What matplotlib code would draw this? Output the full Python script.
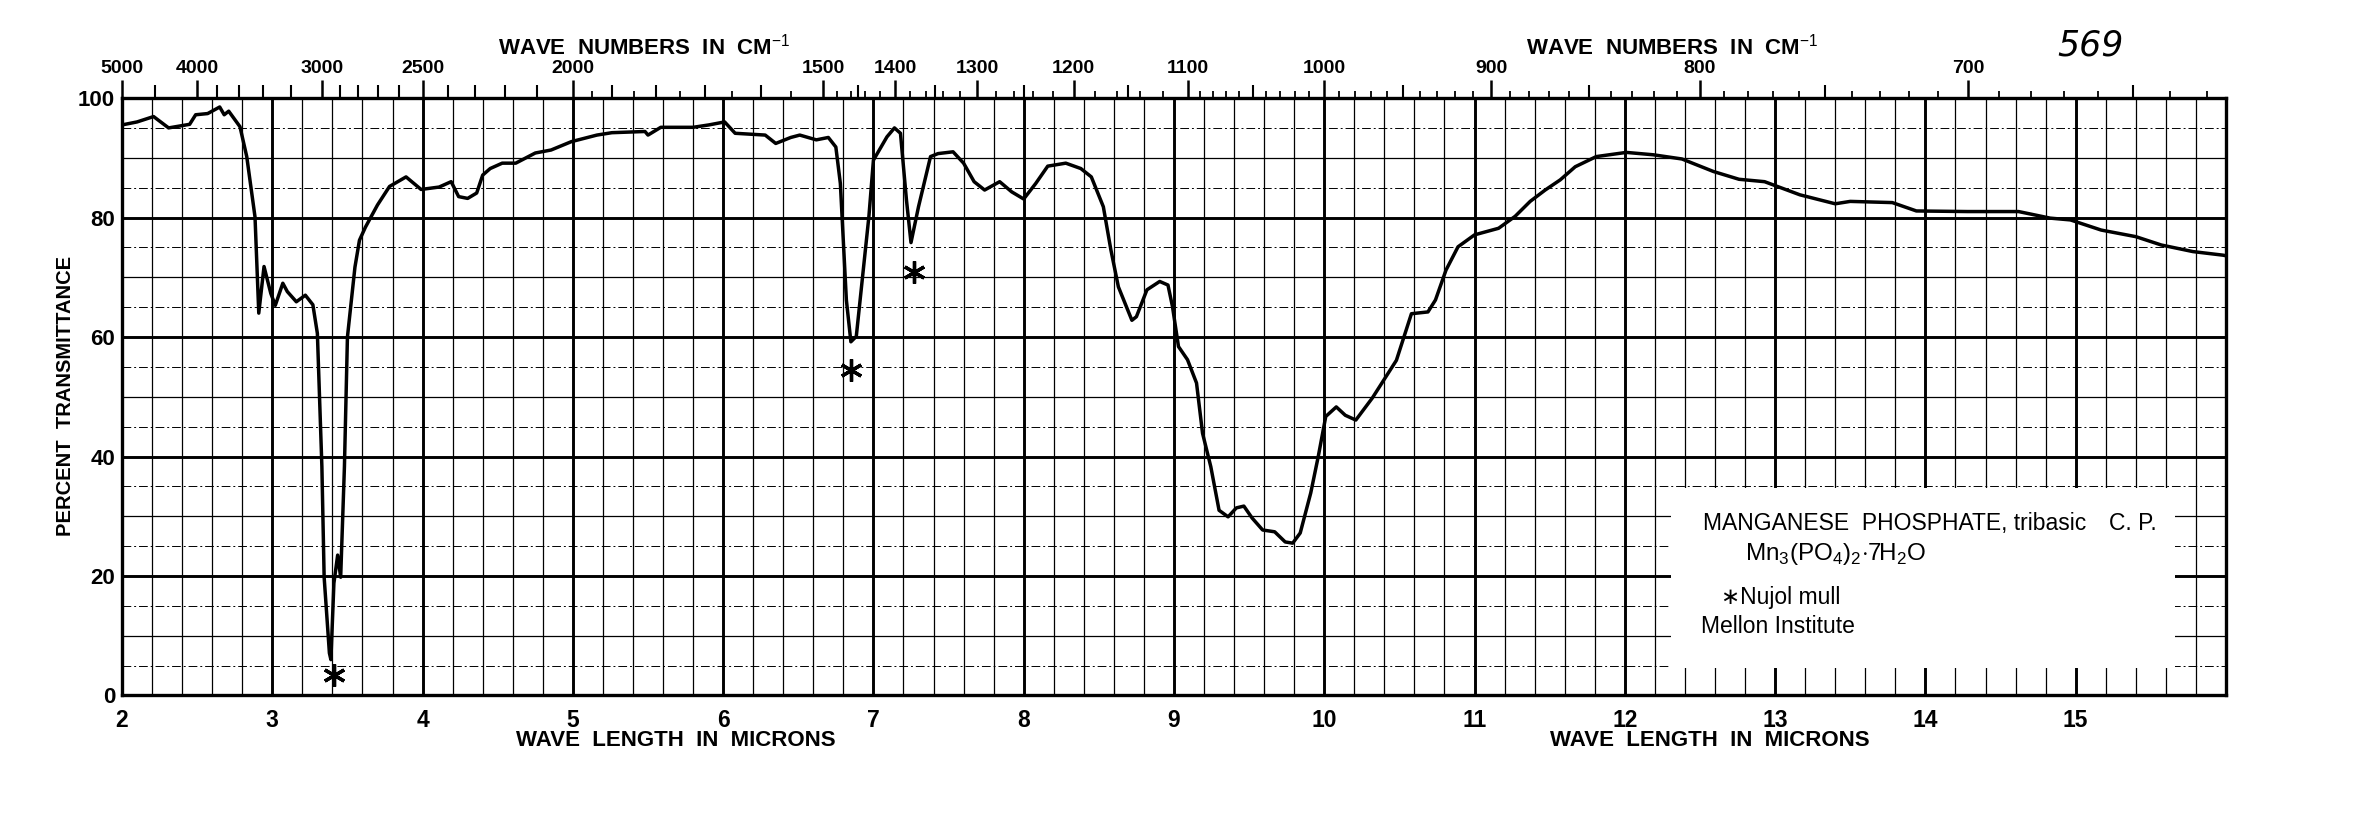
import matplotlib
matplotlib.use("Agg")
import matplotlib.pyplot as plt
from matplotlib.patches import Rectangle
import numpy as np

FONT = ['Liberation Sans', 'DejaVu Sans']
plt.rcParams['font.family'] = FONT
plt.rcParams['mathtext.fontset'] = 'custom'
plt.rcParams['mathtext.rm'] = 'Liberation Sans'

# spectrum: wavelength (microns) vs percent transmittance
wl = [2.00, 2.10, 2.21, 2.31, 2.45, 2.49, 2.57, 2.65, 2.68, 2.71, 2.785, 2.83,
      2.885, 2.91, 2.945, 2.99, 3.02, 3.07, 3.10, 3.16, 3.22, 3.27, 3.30, 3.33,
      3.345, 3.38, 3.39, 3.41, 3.435, 3.455, 3.48, 3.50, 3.55, 3.58, 3.62, 3.70,
      3.78, 3.89, 3.99, 4.11, 4.19, 4.24, 4.30, 4.36, 4.40, 4.45, 4.53, 4.62,
      4.75, 4.855, 4.99, 5.16, 5.26, 5.48, 5.50, 5.585, 5.80, 5.905, 6.01, 6.08,
      6.28, 6.35, 6.45, 6.51, 6.62, 6.70, 6.75, 6.78, 6.82, 6.85, 6.886, 6.97,
      7.00, 7.09, 7.14, 7.18, 7.22, 7.25, 7.30, 7.38, 7.43, 7.53, 7.60, 7.67,
      7.74, 7.84, 7.92, 8.00, 8.08, 8.16, 8.28, 8.38, 8.45, 8.53, 8.58, 8.63,
      8.72, 8.75, 8.82, 8.905, 8.96, 8.99, 9.03, 9.09, 9.15, 9.19, 9.245, 9.30,
      9.36, 9.415, 9.465, 9.52, 9.59, 9.67, 9.74, 9.79, 9.84, 9.91, 9.96, 10.01,
      10.08, 10.14, 10.21, 10.32, 10.48, 10.58, 10.69, 10.74, 10.81, 10.89,
      11.00, 11.16, 11.27, 11.37, 11.47, 11.57, 11.67, 11.81, 12.01, 12.19,
      12.38, 12.59, 12.76, 12.93, 13.165, 13.40, 13.50, 13.78, 13.94, 14.28,
      14.62, 14.83, 14.965, 15.17, 15.40, 15.57, 15.78, 15.98, 16.0]
tr = [95.5, 96.0, 96.9, 95.0, 95.6, 97.2, 97.4, 98.5, 97.2, 97.8, 95.2, 90.2,
      80.1, 64.0, 71.8, 67.3, 65.3, 69.0, 67.6, 65.9, 67.0, 65.4, 60.6, 38.3,
      19.8, 7.1, 6.0, 18.8, 23.5, 19.8, 38.3, 60.0, 71.7, 76.2, 78.4, 82.1,
      85.2, 86.8, 84.7, 85.1, 86.0, 83.5, 83.2, 84.1, 87.1, 88.2, 89.1, 89.1,
      90.8, 91.3, 92.7, 93.8, 94.2, 94.4, 93.8, 95.1, 95.1, 95.5, 96.0, 94.1,
      93.8, 92.4, 93.4, 93.8, 93.0, 93.4, 91.8, 85.7, 66.2, 59.2, 60.1, 80.2,
      89.6, 93.5, 95.0, 94.1, 82.9, 75.8, 81.8, 90.2, 90.7, 91.0, 89.1, 86.0,
      84.6, 86.0, 84.3, 83.1, 85.7, 88.6, 89.1, 88.2, 86.8, 81.8, 74.6, 68.4,
      62.8, 63.4, 67.9, 69.3, 68.7, 65.1, 58.4, 56.2, 52.3, 43.9, 38.3, 31.0,
      29.9, 31.4, 31.7, 29.7, 27.7, 27.4, 25.7, 25.5, 27.2, 33.9, 40.0, 46.7,
      48.3, 46.9, 46.1, 49.8, 56.1, 63.9, 64.2, 66.2, 71.2, 75.1,
      77.1, 78.2, 80.2, 82.7, 84.6, 86.3, 88.5, 90.2, 90.9, 90.5,
      89.8, 87.7, 86.4, 86.0, 83.8, 82.3, 82.7, 82.5, 81.1, 81.0,
      81.0, 79.9, 79.6, 77.9, 76.8, 75.4, 74.3, 73.7, 73.6]

# nujol mull bands marked with an asterisk
star_wl = [3.41, 6.85, 7.27]
star_tr = [3.4, 54.5, 70.9]

wl_ticks = list(range(2, 17))
wl_labels = [str(v) for v in range(2, 16)] + ['']
pt_ticks = [0, 20, 40, 60, 80, 100]

wn_labeled = [5000, 4000, 3000, 2500, 2000, 1500, 1400, 1300, 1200, 1100,
              1000, 900, 800, 700]
wn_long = [4500, 3800, 3600, 3400, 3200, 2900, 2800, 2700, 2600, 2400, 2300,
           2200, 2100, 1900, 1800, 1700, 1600, 1450, 1350, 1250, 1150, 1050,
           950, 850, 750, 650]
wn_short = ([1950, 1850, 1750, 1650, 1550]
            + [v for v in range(1480, 1100, -20) if v % 50 != 0]
            + [v for v in range(1090, 1000, -10) if v != 1050]
            + [v for v in range(990, 620, -10) if v % 50 != 0])

fig = plt.figure(figsize=(23.6, 8.19), dpi=100)
ax = fig.add_axes([0.0517, 0.1508, 0.8915, 0.7295])
ax.set_xlim(2, 16)
ax.set_ylim(0, 100)

# chart paper grid
ax.set_xticks(wl_ticks)
ax.set_xticklabels(wl_labels)
ax.set_xticks(np.arange(2, 16.01, 0.2), minor=True)
ax.set_yticks(pt_ticks)
ax.set_yticks(np.arange(0, 101, 10), minor=True)
ax.grid(which='major', color='black', lw=2.1)
ax.grid(which='minor', color='black', lw=0.9)
ax.hlines(np.arange(5, 100, 10), 2, 16, colors='black', lw=0.7,
          linestyles=(0, (9, 3, 2, 3)), zorder=1)
ax.set_axisbelow(True)
for s in ax.spines.values():
    s.set_linewidth(2.4)

ax.tick_params(axis='x', which='both', length=0, pad=10, labelsize=16.5)
ax.tick_params(axis='y', which='both', length=0, pad=5, labelsize=16)
for lab in ax.get_xticklabels() + ax.get_yticklabels():
    lab.set_fontweight('bold')

# label card
ax.add_patch(Rectangle((12.31, 4.6), 3.35, 30.1, facecolor='white',
                       edgecolor='none', zorder=3))
ax.text(12.52, 27.7, 'MANGANESE  PHOSPHATE, tribasic', fontsize=16.5,
        va='baseline', zorder=5)
ax.text(15.22, 27.7, 'C. P.', fontsize=16.5, va='baseline', zorder=5)
ax.text(12.80, 22.7,
        r'Mn$_3$(PO$_4$)$_2$$\cdot$7H$_2$O',
        fontsize=17.5, va='baseline', zorder=5)
ax.text(12.64, 15.3, '\u2217Nujol mull', fontsize=16.5, va='baseline',
        zorder=5)
ax.text(12.51, 10.4, 'Mellon Institute', fontsize=16.5, va='baseline',
        zorder=5)

ax.plot(wl, tr, color='black', lw=2.5, zorder=4, solid_joinstyle='round')
ax.plot(star_wl, star_tr, ls='none', marker=(6, 2, 0), ms=16, mew=2.4,
        color='black', zorder=4)

# wave number scale along the top
top = ax.twiny()
top.set_xlim(2, 16)
top.set_xticks([1e4 / v for v in wn_labeled])
top.set_xticklabels([str(v) for v in wn_labeled], fontweight='bold')
top.set_xticks([1e4 / v for v in wn_long], minor=True)
top.tick_params(axis='x', which='major', direction='out', length=13,
                width=1.8, pad=2, labelsize=14)
top.tick_params(axis='x', which='minor', direction='out', length=9.5,
                width=1.5)
top2 = ax.twiny()
top2.set_xlim(2, 16)
top2.set_xticks([1e4 / v for v in wn_short])
top2.set_xticklabels([])
top2.tick_params(axis='x', which='major', direction='out', length=5,
                 width=1.3)
for a in (top, top2):
    for s in a.spines.values():
        s.set_visible(False)

W, H = 2360, 819


def ftext(x, y, s, **kw):
    fig.text(x / W, 1 - y / H, s, ha='center', va='center', **kw)


ftext(644, 47, r'WAVE  NUMBERS  IN  CM$^{-1}$', fontsize=16,
      fontweight='bold')
ftext(1672, 47, r'WAVE  NUMBERS  IN  CM$^{-1}$', fontsize=16,
      fontweight='bold')
ftext(676, 740, 'WAVE  LENGTH  IN  MICRONS', fontsize=16, fontweight='bold')
ftext(1710, 740, 'WAVE  LENGTH  IN  MICRONS', fontsize=16, fontweight='bold')
ftext(66, 396, 'PERCENT  TRANSMITTANCE', fontsize=14.5, fontweight='bold',
      rotation=90)
ftext(2090, 45, '569', fontsize=25, style='italic',
      family=['DejaVu Sans'], fontweight='light')

fig.savefig('out.png', dpi=100, facecolor='white')
